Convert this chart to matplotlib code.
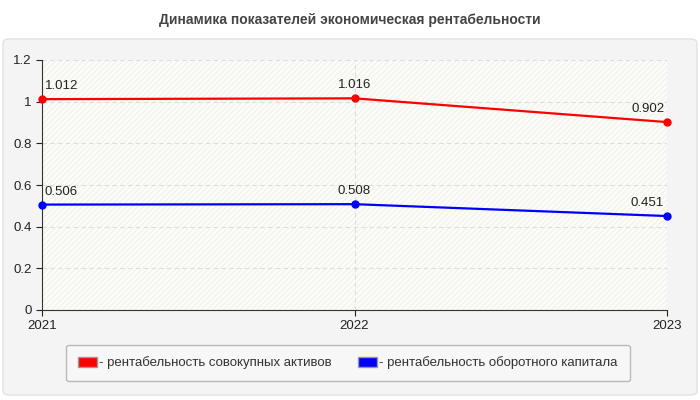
import matplotlib.pyplot as plt
from matplotlib.patches import FancyBboxPatch, Rectangle, Patch

years = [2021, 2022, 2023]
assets = [1.012, 1.016, 0.902]
capital = [0.506, 0.508, 0.451]
labels = ["- рентабельность совокупных активов", "- рентабельность оборотного капитала"]
title = "Динамика показателей экономическая рентабельности"

plt.rcParams['font.family'] = ['Liberation Sans', 'DejaVu Sans']

fig = plt.figure(figsize=(7, 4), dpi=100)
fig.patch.set_facecolor('white')

# outer gray panel
panel = FancyBboxPatch((3 / 700, 5 / 400), 694 / 700, 356 / 400,
                       boxstyle="round,pad=0,rounding_size=0.01",
                       transform=fig.transFigure, facecolor='#f4f4f4',
                       edgecolor='#e2e2e2', linewidth=1, zorder=-5)
fig.patches.append(panel)

fig.text(0.5, 0.95, title, ha='center', va='center', fontsize=10,
         fontweight='bold', color='#444444')

ax = fig.add_axes([42 / 700, 90 / 400, 625 / 700, 250 / 400])
ax.set_zorder(1)
ax.set_facecolor('#fcfcf8')
ax.add_patch(Rectangle((0, 0), 1, 1, transform=ax.transAxes, facecolor='none',
                       edgecolor='#f3f3ee', hatch='//////', linewidth=0, zorder=0))

ax.plot(years, assets, color='red', linewidth=1.6, marker='o', markersize=5, zorder=3, clip_on=False)
ax.plot(years, capital, color='blue', linewidth=1.6, marker='o', markersize=5, zorder=3, clip_on=False)

aligns = ['left', 'center', 'right']
dx = [2, 0, -2]
for x, y, ha, d in zip(years, assets, aligns, dx):
    ax.annotate(f"{y:.3f}", (x, y), xytext=(d, 5), textcoords='offset points',
                ha=ha, va='bottom', fontsize=9.5, color='#222222')
for x, y, ha, d in zip(years, capital, aligns, dx):
    ax.annotate(f"{y:.3f}", (x, y), xytext=(d, 5), textcoords='offset points',
                ha=ha, va='bottom', fontsize=9.5, color='#222222')

ax.set_xlim(2021, 2023)
ax.set_ylim(0, 1.2)
ax.set_xticks(years)
ax.set_xticklabels([str(y) for y in years])
yt = [0, 0.2, 0.4, 0.6, 0.8, 1.0, 1.2]
ax.set_yticks(yt)
ax.set_yticklabels(["0", "0.2", "0.4", "0.6", "0.8", "1", "1.2"])
ax.tick_params(labelsize=9.5, colors='#222222', length=4)
ax.grid(True, color='#dddddd', linestyle=(0, (4, 3)), linewidth=0.8)
ax.set_axisbelow(True)
for s in ['top', 'right']:
    ax.spines[s].set_visible(False)
for s in ['left', 'bottom']:
    ax.spines[s].set_color('#333333')

handles = [Patch(facecolor='red', edgecolor='#999999'),
           Patch(facecolor='blue', edgecolor='#999999')]
leg = fig.legend(handles, labels, loc='center', bbox_to_anchor=(348 / 700, 37 / 400),
                 ncol=2, fontsize=9.5, frameon=True, fancybox=True,
                 handlelength=1.4, handleheight=0.8, handletextpad=0.2,
                 columnspacing=2.0, borderpad=0.9, borderaxespad=0)
leg.get_frame().set_facecolor('#f8f8f8')
leg.get_frame().set_edgecolor('#aaaaaa')
for t in leg.get_texts():
    t.set_color('#333333')

fig.savefig('out.png', dpi=100)
